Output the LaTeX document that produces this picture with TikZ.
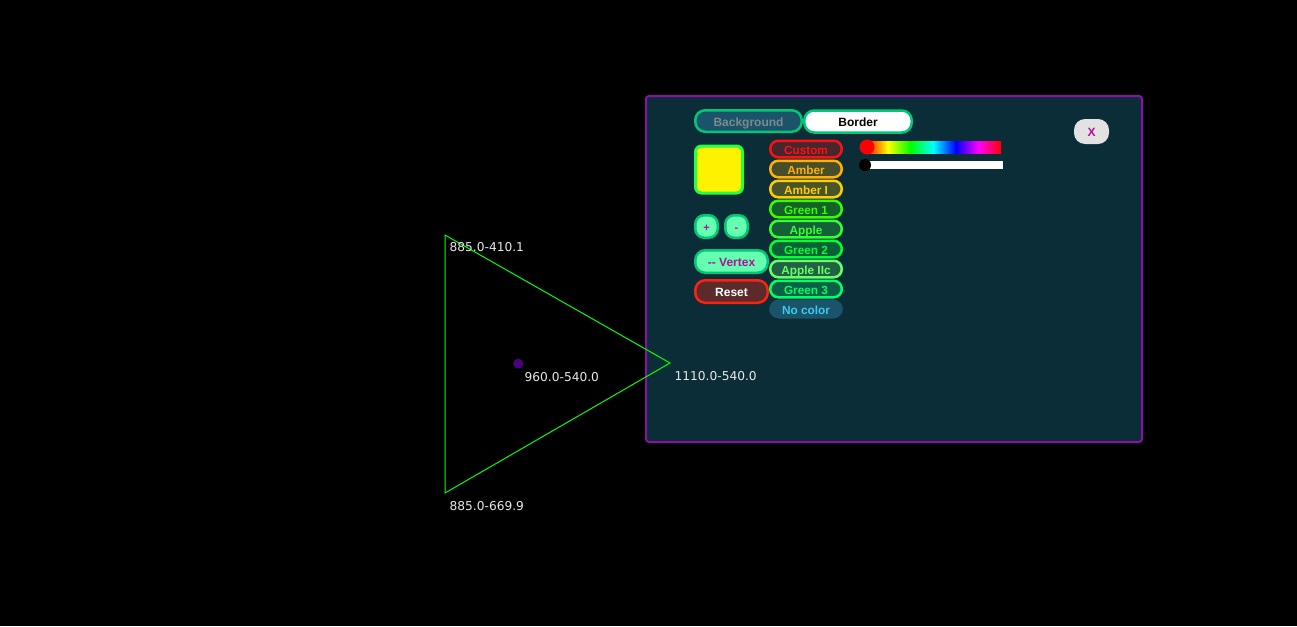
\documentclass[tikz,border=0pt]{standalone}
\usepackage{fontspec}
\setmainfont{Liberation Sans}
\newfontfamily\coordfont{DejaVu Sans}
\usetikzlibrary{positioning}

\definecolor{panelbg}{HTML}{0B2D38}
\definecolor{panelpurple}{HTML}{8A10A8}
\definecolor{tabgreen}{HTML}{00C878}
\definecolor{tabblue}{HTML}{1B5468}
\definecolor{tabgray}{HTML}{7A8A8E}
\definecolor{closegray}{HTML}{E2E2E2}
\definecolor{btnmagenta}{HTML}{B0109A}
\definecolor{mint}{HTML}{66FFB0}
\definecolor{swatchgreen}{HTML}{22FF44}
\definecolor{resetred}{HTML}{FF2010}
\definecolor{resetbrown}{HTML}{5C2A2A}
\definecolor{nocolorblue}{HTML}{3CC8F0}
\definecolor{trigreen}{HTML}{00FF00}
\definecolor{dotpurple}{HTML}{4B0082}
\definecolor{labelgray}{HTML}{E8E8E8}
\definecolor{cCustom}{HTML}{FF1010}
\definecolor{cAmber}{HTML}{FFB000}
\definecolor{cAmberI}{HTML}{FFCC00}
\definecolor{cGreenA}{HTML}{33FF00}
\definecolor{cApple}{HTML}{33FF33}
\definecolor{cGreenB}{HTML}{00FF33}
\definecolor{cAppleIIc}{HTML}{66FF66}
\definecolor{cGreenC}{HTML}{00FF66}

\begin{document}
\begin{tikzpicture}[x=1pt,y=-1pt,
  pill/.style={rounded corners=10pt, line width=2.5pt, inner sep=0pt, text height=10.5pt, text depth=0pt, font=\fontsize{12}{14}\selectfont\bfseries},
  swatch/.style={pill, draw=#1, fill=#1!25!panelbg, text=#1, minimum width=71.5pt, minimum height=16.5pt, rounded corners=8pt, font=\fontsize{11.8}{14}\selectfont\bfseries},
  coordlabel/.style={anchor=west, inner sep=0pt, text=labelgray, font=\coordfont\fontsize{12.2}{14}\selectfont}]
% Background
\fill[black] (0,0) rectangle (1297,626);

% Panel
\node[draw=panelpurple, fill=panelbg, line width=2pt, rounded corners=3pt, minimum width=496pt, minimum height=346pt, inner sep=0pt] (panel) at (894,269) {};

% Tabs
\node[pill, draw=tabgreen, fill=tabblue, text=tabgray, minimum width=106.5pt, minimum height=21.5pt] (bgtab) at (748.5,121) {Background};
\node[pill, draw=tabgreen, fill=white, text=black, minimum width=107.5pt, minimum height=22pt] (bordertab) at (858,121.5) {Border};
\node[pill, fill=closegray, text=btnmagenta, minimum width=35pt, minimum height=25pt, rounded corners=11pt] (close) at (1091.5,131.5) {X};

% Preview and buttons
\node[draw=swatchgreen, fill=yellow, line width=3pt, rounded corners=6pt, minimum size=47pt, inner sep=0pt] (preview) at (719,169.5) {};
\node[pill, draw=tabgreen, fill=mint, text=btnmagenta, minimum size=22.5pt, rounded corners=9pt, text height=9pt, font=\fontsize{11}{12}\selectfont\bfseries] (plus) at (706.5,226.5) {+};
\node[pill, draw=tabgreen, fill=mint, text=btnmagenta, minimum size=22.5pt, rounded corners=9pt, text height=9pt, font=\fontsize{11}{12}\selectfont\bfseries] (minus) at (736.5,226.5) {-};
\node[pill, draw=tabgreen, fill=mint, text=btnmagenta, minimum width=72.5pt, minimum height=22.5pt] (vertex) at (731.5,261.5) {-{}- Vertex};
\node[pill, draw=resetred, fill=resetbrown, text=white, minimum width=72.5pt, minimum height=22.5pt] (reset) at (731.5,291.5) {Reset};

% Colour list
\node[swatch=cCustom] (custom) at (806,149) {Custom};
\node[swatch=cAmber] (amber) at (806,169) {Amber};
\node[swatch=cAmberI] (amberi) at (806,189) {Amber I};
\node[swatch=cGreenA] (greena) at (806,209) {Green 1};
\node[swatch=cApple] (apple) at (806,229) {Apple};
\node[swatch=cGreenB] (greenb) at (806,249) {Green 2};
\node[swatch=cAppleIIc] (appleiic) at (806,269) {Apple IIc};
\node[swatch=cGreenC] (greenc) at (806,289) {Green 3};
\node[pill, fill=tabblue, text=nocolorblue, minimum width=74pt, minimum height=19pt, font=\fontsize{11.8}{14}\selectfont\bfseries] (nocolor) at (806,309) {No color};

% Sliders
\shade[left color=red, right color=yellow] (865,141) rectangle (887.8,153);
\shade[left color=yellow, right color=green] (887.6,141) rectangle (910.5,153);
\shade[left color=green, right color=cyan] (910.3,141) rectangle (933.2,153);
\shade[left color=cyan, right color=blue] (933,141) rectangle (955.9,153);
\shade[left color=blue, right color=magenta] (955.7,141) rectangle (978.5,153);
\shade[left color=magenta, right color=red] (978.3,141) rectangle (1001,153);
\fill[red] (867,147) circle (7.5);
\fill[white] (865,161) rectangle (1003,169);
\fill[black] (865,165) circle (6);

% Triangle
\coordinate (va) at (445,235);
\coordinate (vb) at (445,493);
\coordinate (vc) at (670,363);
\coordinate (mid) at (518.3,363.7);
\draw[trigreen, line width=1pt] (va) -- (vc) -- (vb) -- cycle;
\fill[dotpurple] (mid) circle (5);
\node[coordlabel] (lbla) at (449.5,247) {885.0-410.1};
\node[coordlabel] (lblmid) at (524.5,377) {960.0-540.0};
\node[coordlabel] (lblc) at (674.5,376) {1110.0-540.0};
\node[coordlabel] (lblb) at (449.5,506) {885.0-669.9};
\end{tikzpicture}
\end{document}
